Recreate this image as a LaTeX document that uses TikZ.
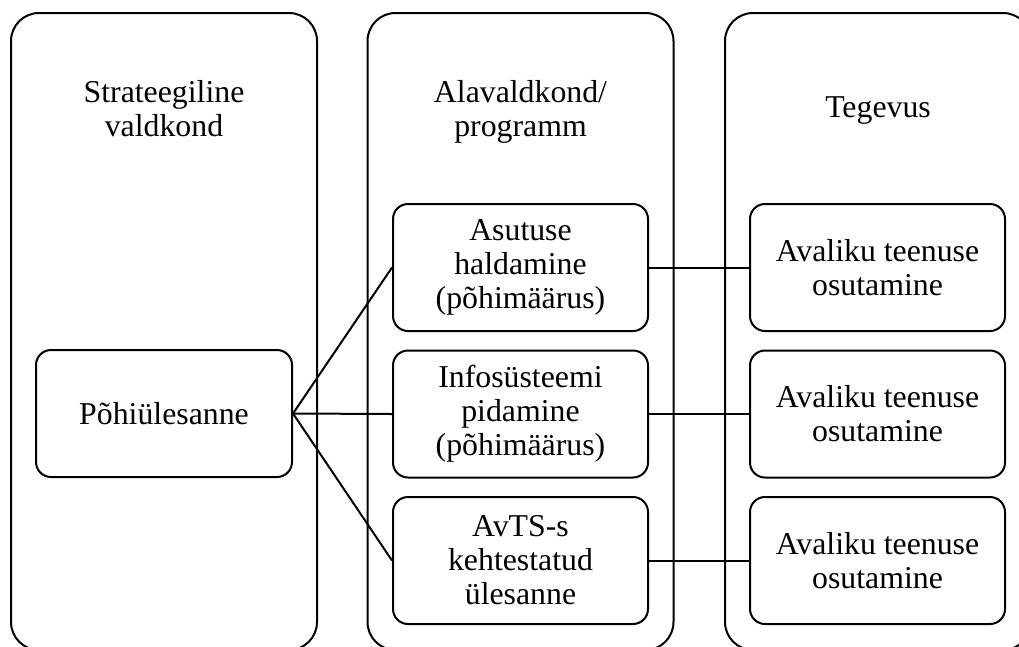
\documentclass[tikz,border=0pt]{standalone}
\usepackage{fontspec}
\setmainfont{Liberation Serif}
\begin{document}
\begin{tikzpicture}[x=1pt,y=-1pt,line width=2pt,
  txt/.style={font=\fontsize{31.8}{34}\selectfont, align=center, inner sep=0pt},
  column/.style={draw, rounded corners=28pt, minimum width=306pt, minimum height=637pt, inner sep=0pt},
  item/.style={txt, draw, rounded corners=15pt, minimum width=255pt, minimum height=127pt},
  link/.style={line width=2pt}]
\useasboundingbox (0,0) rectangle (1019,646);
\clip (0,0) rectangle (1019,646);

% three vertical bands
\node[column] (c1) at (164,331.5) {};
\node[column] (c2) at (520.5,331.5) {};
\node[column] (c3) at (878,331.5) {};

% band headings
\node[txt] (h1) at (164,108.5) {Strateegiline\\valdkond};
\node[txt] (h2) at (520.5,112) {Alavaldkond/\\programm};
\node[txt] (h3) at (878,110.5) {Tegevus};

% boxes
\node[item, minimum width=256pt] (p) at (164,413.5) {Põhiülesanne};
\node[item] (m1) at (520.5,267.5) {Asutuse\\haldamine\\(põhimäärus)};
\node[item] (m2) at (520.5,414) {Infosüsteemi\\pidamine\\(põhimäärus)};
\node[item] (m3) at (520.5,560.5) {AvTS-s\\kehtestatud\\ülesanne};
\node[item] (t1) at (877.5,267.5) {Avaliku teenuse\\osutamine};
\node[item] (t2) at (877.5,414) {Avaliku teenuse\\osutamine};
\node[item] (t3) at (877.5,560.5) {Avaliku teenuse\\osutamine};

% connectors
\draw[link] (p.east) -- (m1.west);
\draw[link] (p.east) -- (m2.west);
\draw[link] (p.east) -- (m3.west);
\draw[link] (m1.east) -- (t1.west);
\draw[link] (m2.east) -- (t2.west);
\draw[link] (m3.east) -- (t3.west);
\end{tikzpicture}
\end{document}
